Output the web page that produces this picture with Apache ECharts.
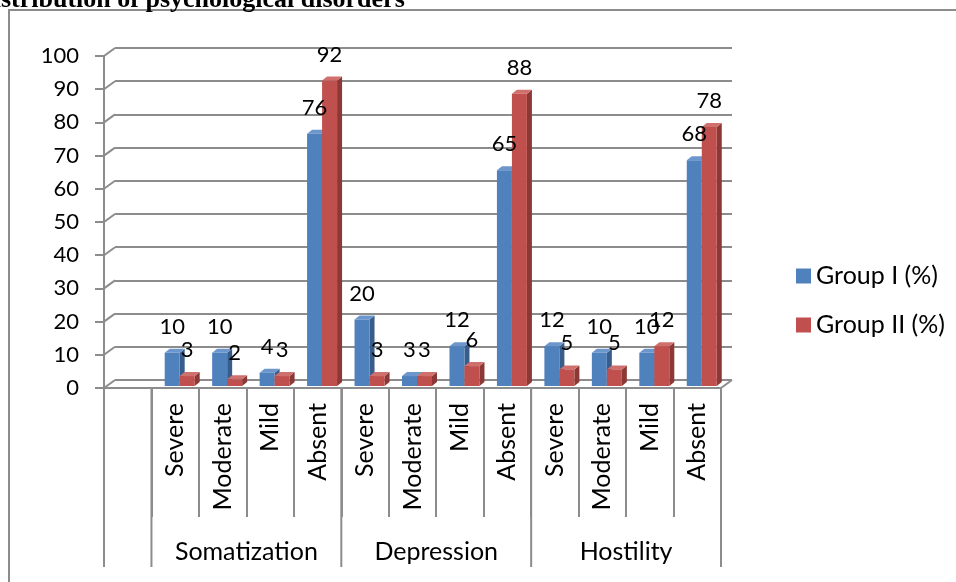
<!DOCTYPE html>
<html>
<head>
<meta charset="utf-8">
<script src="https://cdn.jsdelivr.net/npm/echarts@6/dist/echarts.min.js"></script>
<style>
  html, body { margin: 0; padding: 0; background: #fff; }
  #chart { width: 956px; height: 582px; }
</style>
</head>
<body>
<div id="chart"></div>
<script>
// ---- data ----
const titleText = 'Distribution of psychological disorders';
const categories = ['', 'Severe', 'Moderate', 'Mild', 'Absent',
                    'Severe', 'Moderate', 'Mild', 'Absent',
                    'Severe', 'Moderate', 'Mild', 'Absent'];
const groupNames = ['', 'Somatization', 'Depression', 'Hostility'];
const groupFirst = [0, 1, 5, 9];
const groupLast  = [0, 4, 8, 12];
const seriesNames = ['Group I (%)', 'Group II (%)'];
const groupI  = [null, 10, 10, 4, 76, 20, 3, 12, 65, 12, 10, 10, 68];
const groupII = [null, 3, 2, 3, 92, 3, 3, 6, 88, 5, 5, 12, 78];
const yTicks = [0, 10, 20, 30, 40, 50, 60, 70, 80, 90, 100];

// ---- styling ----
const FONT = 'Lato, "Open Sans", sans-serif';
const GRID_COLOR = '#8c8c8c';
const DEPTH_X = 11, DEPTH_Y = -8;
const colors = [
  { front: '#4F81BD', side: '#385D8A', top: '#6D97CC' },
  { front: '#C0504D', side: '#8C3836', top: '#D0706D' }
];

const chart = echarts.init(document.getElementById('chart'));

function barRenderer(k) {
  return function (params, api) {
    const idx = api.value(0);
    const v = api.value(1);
    if (v == null || isNaN(v)) return;
    const base = api.coord([idx, 0]);
    const top = api.coord([idx, v]);
    const band = api.size([1, 0])[0];
    const w = band * 0.316;
    const cx = base[0] + (k === 0 ? -w / 2 : w / 2) + 4.5;
    const x0 = cx - w / 2, x1 = cx + w / 2;
    const yb = base[1] - 2, yt = top[1] - 2;
    const dx = 5, dy = -4;
    const c = colors[k];
    return {
      type: 'group',
      children: [
        { type: 'polygon', shape: { points: [[x1, yt], [x1 + dx, yt + dy], [x1 + dx, yb + dy], [x1, yb]] },
          style: { fill: c.side } },
        { type: 'polygon', shape: { points: [[x0, yt], [x0 + dx, yt + dy], [x1 + dx, yt + dy], [x1, yt]] },
          style: { fill: c.top } },
        { type: 'rect', shape: { x: x0, y: yt, width: w, height: yb - yt },
          style: { fill: c.front } },
        { type: 'text', z2: 100,
          style: { text: String(v), x: cx, y: yt - 26, align: 'center', verticalAlign: 'middle',
                   font: '22px ' + FONT, fill: '#000' } }
      ]
    };
  };
}

// slanted connectors from the front value axis to the back wall grid
function connectorRenderer(params, api) {
  const y = api.value(0);
  const p = api.coord([0, y]);
  const band = api.size([1, 0])[0];
  const left = p[0] - band / 2;
  const children = [
    { type: 'line', shape: { x1: left, y1: p[1], x2: left + DEPTH_X, y2: p[1] + DEPTH_Y },
      style: { stroke: GRID_COLOR, lineWidth: 2 } }
  ];
  if (y === 0) {
    const pr = api.coord([categories.length - 1, 0]);
    const right = pr[0] + band / 2;
    children.push({ type: 'line', shape: { x1: right, y1: pr[1], x2: right + DEPTH_X, y2: pr[1] + DEPTH_Y },
      style: { stroke: GRID_COLOR, lineWidth: 2 } });
  }
  return { type: 'group', children: children };
}

// second-level category axis (group names + long dividers)
function groupAxisRenderer(params, api) {
  const first = api.value(0), last = api.value(1);
  const name = groupNames[params.dataIndex];
  const band = api.size([1, 0])[0];
  const pa = api.coord([first, 0]);
  const pb = api.coord([last, 0]);
  const xl = pa[0] - band / 2, xr = pb[0] + band / 2;
  const y0 = pa[1];
  const children = [
    { type: 'line', shape: { x1: xl, y1: y0, x2: xl, y2: y0 + 179 }, style: { stroke: GRID_COLOR, lineWidth: 2 } }
  ];
  if (params.dataIndex === groupNames.length - 1) {
    children.push({ type: 'line', shape: { x1: xr, y1: y0, x2: xr, y2: y0 + 179 }, style: { stroke: GRID_COLOR, lineWidth: 2 } });
  }
  if (name) {
    children.push({ type: 'text', style: { text: name, x: (xl + xr) / 2, y: y0 + 164, align: 'center',
      verticalAlign: 'middle', font: '25px ' + FONT, fill: '#000' } });
  }
  return { type: 'group', children: children };
}

const option = {
  backgroundColor: '#fff',
  animation: false,
  title: {
    text: titleText, left: -30, top: -18,
    textStyle: { fontFamily: '"Liberation Serif", "Times New Roman", serif', fontWeight: 'bold', fontSize: 26, color: '#000' }
  },
  graphic: [
    { type: 'rect', shape: { x: 9, y: 10, width: 980, height: 620 }, style: { fill: null, stroke: GRID_COLOR, lineWidth: 2 }, z: -10 }
  ],
  legend: {
    orient: 'vertical', left: 791, top: 256, itemGap: 19,
    itemWidth: 15, itemHeight: 15, icon: 'rect',
    textStyle: { fontFamily: FONT, fontSize: 25, color: '#000', lineHeight: 30 },
    data: seriesNames
  },
  grid: [
    { left: 104, right: 235, top: 56, bottom: 194 },
    { left: 104 + DEPTH_X, right: 235 - DEPTH_X, top: 56 + DEPTH_Y, bottom: 194 - DEPTH_Y }
  ],
  xAxis: [
    {
      type: 'category', gridIndex: 0, data: categories,
      axisLine: { lineStyle: { color: GRID_COLOR, width: 2 } },
      axisTick: { show: true, interval: 0, length: 129, lineStyle: { color: GRID_COLOR, width: 2 } },
      axisLabel: { interval: 0, rotate: 90, margin: 15, fontFamily: FONT, fontSize: 25, color: '#000' }
    },
    { type: 'category', gridIndex: 1, data: categories, show: false }
  ],
  yAxis: [
    {
      type: 'value', gridIndex: 0, min: 0, max: 100, interval: 10,
      axisLine: { show: true, lineStyle: { color: GRID_COLOR, width: 2 } },
      axisTick: { show: true, length: 9, lineStyle: { color: GRID_COLOR, width: 2 } },
      axisLabel: { margin: 25, fontFamily: FONT, fontSize: 22, color: '#000' },
      splitLine: { show: false }
    },
    {
      type: 'value', gridIndex: 1, min: 0, max: 100, interval: 10,
      axisLine: { show: false }, axisTick: { show: false }, axisLabel: { show: false },
      splitLine: { show: true, lineStyle: { color: GRID_COLOR, width: 2 } }
    }
  ],
  series: [
    {
      type: 'custom', name: 'connectors', xAxisIndex: 0, yAxisIndex: 0,
      renderItem: connectorRenderer, data: yTicks.map(function (t) { return [t]; }),
      encode: { y: 0 }, silent: true
    },
    {
      type: 'custom', name: 'groups', xAxisIndex: 0, yAxisIndex: 0,
      renderItem: groupAxisRenderer,
      data: groupNames.map(function (g, i) { return [groupFirst[i], groupLast[i]]; }),
      encode: { x: [0, 1] }, silent: true
    },
    {
      type: 'custom', name: seriesNames[0], xAxisIndex: 0, yAxisIndex: 0,
      itemStyle: { color: colors[0].front },
      renderItem: barRenderer(0),
      data: groupI.map(function (v, i) { return [i, v]; }),
      encode: { x: 0, y: 1 }
    },
    {
      type: 'custom', name: seriesNames[1], xAxisIndex: 0, yAxisIndex: 0,
      itemStyle: { color: colors[1].front },
      renderItem: barRenderer(1),
      data: groupII.map(function (v, i) { return [i, v]; }),
      encode: { x: 0, y: 1 }
    }
  ]
};

chart.setOption(option);
</script>
</body>
</html>
